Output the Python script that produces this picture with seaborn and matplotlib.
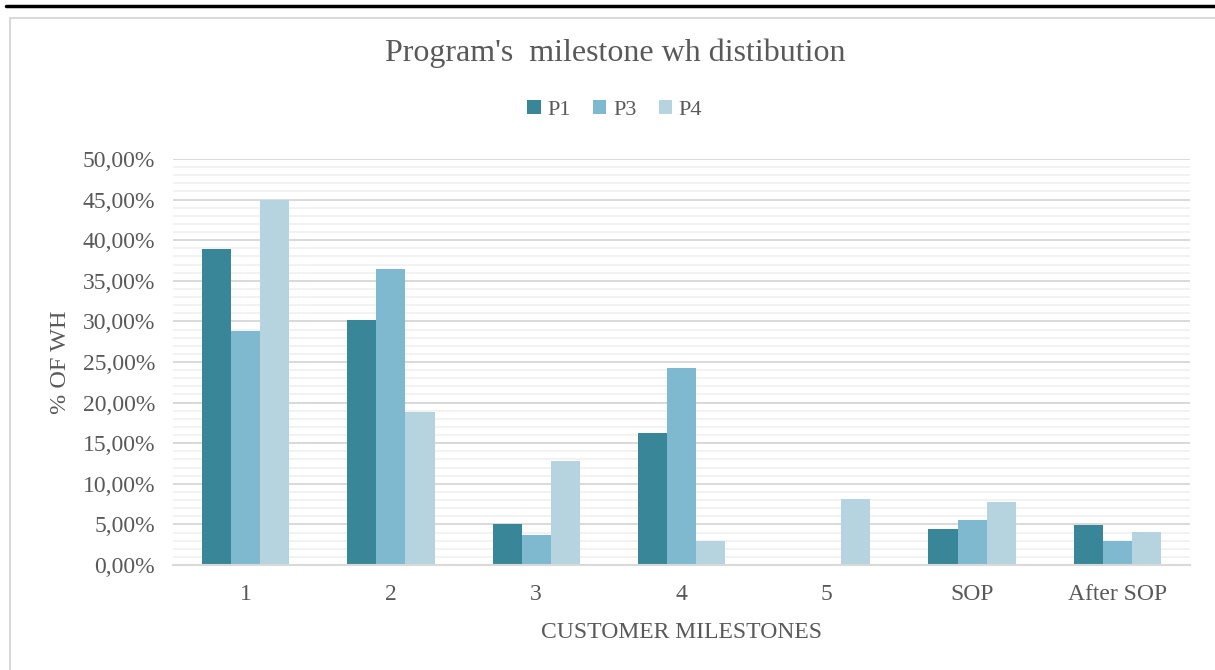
import numpy as np
import pandas as pd
import matplotlib
matplotlib.use("Agg")
import matplotlib.pyplot as plt
from matplotlib.ticker import MultipleLocator, FuncFormatter
from matplotlib.patches import Rectangle
from matplotlib.lines import Line2D
import seaborn as sns

# Data (% of WH per customer milestone)
milestones = ["1", "2", "3", "4", "5", "SOP", "After SOP"]
p1 = [38.9, 30.2, 5.1, 16.2, 0.0, 4.4, 4.9]
p3 = [28.8, 36.5, 3.7, 24.3, 0.0, 5.5, 3.0]
p4 = [45.0, 18.9, 12.8, 3.0, 8.1, 7.7, 4.1]
programs = ["P1", "P3", "P4"]
colors = ["#3A8699", "#7FB9CF", "#B6D4DF"]

df = pd.DataFrame({"milestone": milestones, "P1": p1, "P3": p3, "P4": p4})
long_df = df.melt(id_vars="milestone", var_name="program", value_name="pct")

sns.set_theme(style="white")
plt.rcParams["font.family"] = ["Liberation Serif", "DejaVu Serif"]
text_col = "#595959"

fig = plt.figure(figsize=(12.15, 6.7), dpi=100)
ax = fig.add_axes([0.1424, 0.1567, 0.837, 0.606])

sns.barplot(data=long_df, x="milestone", y="pct", hue="program",
            palette=colors, width=0.6, gap=0, saturation=1,
            edgecolor="none", ax=ax, legend=False)

ax.set_ylim(0, 50)
ax.set_xlim(-0.5, len(milestones) - 0.5)
ax.yaxis.set_major_locator(MultipleLocator(5))
ax.yaxis.set_minor_locator(MultipleLocator(1))
ax.yaxis.set_major_formatter(FuncFormatter(lambda v, _: f"{v:.2f}%".replace(".", ",")))
ax.grid(which="major", axis="y", color="#D9D9D9", linewidth=1.4)
ax.grid(which="minor", axis="y", color="#F2F2F2", linewidth=1.4)
ax.set_axisbelow(True)
for side in ["top", "right", "left"]:
    ax.spines[side].set_visible(False)
ax.spines["bottom"].set_color("#D9D9D9")
ax.spines["bottom"].set_linewidth(1.5)
ax.tick_params(axis="both", which="both", length=0, colors=text_col, labelsize=17)
ax.tick_params(axis="y", pad=13)
ax.tick_params(axis="x", pad=14)

ax.set_xlabel("CUSTOMER MILESTONES", color=text_col, fontsize=17, labelpad=12)
ax.set_ylabel("% OF WH", color=text_col, fontsize=17.5, labelpad=8)

fig.text(0.506, 0.921, "Program's  milestone wh distibution", ha="center", va="center",
         color=text_col, fontsize=23)

handles = [Rectangle((0, 0), 1, 1, facecolor=c, edgecolor="none") for c in colors]
fig.legend(handles, programs, loc="center", bbox_to_anchor=(0.506, 0.836), ncol=3,
           frameon=False, fontsize=16, handlelength=0.6, handleheight=0.6,
           handletextpad=0.3, columnspacing=1.0, labelcolor=text_col)

# chart frame and the black rule above it
fig.add_artist(Line2D([0.005, 1.0], [0.991, 0.991], color="black", linewidth=2.5))
fig.add_artist(Rectangle((0.0085, -0.01), 1.1, 0.994 - 0.011, transform=fig.transFigure,
                         fill=False, edgecolor="#D9D9D9", linewidth=1.5))

fig.savefig("out.png", dpi=100)
